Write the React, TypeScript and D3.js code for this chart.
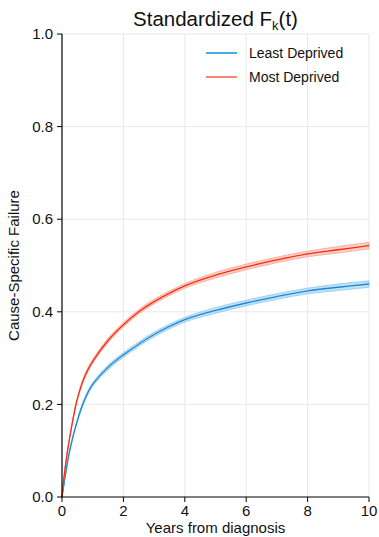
import * as d3 from "d3";

const years = [0, 0.1, 0.25, 0.5, 0.75, 1, 1.5, 2, 2.5, 3, 4, 5, 6, 7, 8, 9, 10];
const leastDeprived = [0, 0.043, 0.1, 0.165, 0.212, 0.243, 0.28, 0.307, 0.33, 0.351, 0.383, 0.403, 0.419, 0.433, 0.445, 0.453, 0.46];
const mostDeprived = [0, 0.062, 0.128, 0.212, 0.262, 0.293, 0.338, 0.372, 0.4, 0.422, 0.456, 0.479, 0.497, 0.512, 0.525, 0.534, 0.543];
const ciHalfWidth = [0, 0.001, 0.002, 0.003, 0.004, 0.004, 0.005, 0.005, 0.005, 0.005, 0.005, 0.006, 0.006, 0.006, 0.006, 0.007, 0.007];
const xTicks = [0, 2, 4, 6, 8, 10];
const yTicks = [0, 0.2, 0.4, 0.6, 0.8, 1.0];

const W = 379;
const H = 537;
const left = 62;
const right = 369;
const top = 34;
const bottom = 497;

const series = [
  { name: "Least Deprived", values: leastDeprived, line: "#1b8ad6", band: "#8ec9ee", legend: "#44ade6", legendW: 2 },
  { name: "Most Deprived", values: mostDeprived, line: "#f52e12", band: "#f9a596", legend: "#f5331a", legendW: 1.2 },
];

export default function App() {
  const x = d3.scaleLinear().domain([0, 10]).range([left, right]);
  const y = d3.scaleLinear().domain([0, 1]).range([bottom, top]);
  const font = "'Liberation Sans', Arial, sans-serif";
  const curve = d3.curveCatmullRom.alpha(0.5);

  const line = d3
    .line<number>()
    .x((_, i) => x(years[i]))
    .y((d) => y(d))
    .curve(curve);
  const band = (vals: number[]) =>
    d3
      .area<number>()
      .x((_, i) => x(years[i]))
      .y0((d, i) => y(d - ciHalfWidth[i]))
      .y1((d, i) => y(d + ciHalfWidth[i]))
      .curve(curve)(vals) as string;

  return (
    <svg width={W} height={H} style={{ position: "absolute", left: 0, top: 0, fontFamily: font }}>
      <rect width={W} height={H} fill="#fff" />
      {/* grid */}
      <g stroke="#e8e8e8" strokeWidth={1}>
        {xTicks.filter((t) => t > 0).map((t) => (
          <line key={t} x1={x(t)} x2={x(t)} y1={top} y2={bottom} />
        ))}
        {yTicks.filter((t) => t > 0).map((t) => (
          <line key={t} x1={left} x2={right} y1={y(t)} y2={y(t)} />
        ))}
      </g>
      {/* bands and lines */}
      {series.map((s) => (
        <g key={s.name}>
          <path d={band(s.values)} fill={s.band} fillOpacity={0.55} stroke={s.band} strokeWidth={0.8} />
          <path d={line(s.values) as string} fill="none" stroke={s.line} strokeWidth={1.3} />
        </g>
      ))}
      {/* axes */}
      <line x1={left} x2={left} y1={top} y2={bottom} stroke="#000" strokeWidth={1.2} />
      <line x1={left} x2={right} y1={bottom} y2={bottom} stroke="#000" strokeWidth={1.2} />
      {yTicks.map((t) => (
        <g key={t}>
          <line x1={left - 5} x2={left} y1={y(t)} y2={y(t)} stroke="#000" />
          <text x={left - 9} y={y(t)} dy="0.35em" textAnchor="end" fontSize={15} fill="#111">
            {d3.format(".1f")(t)}
          </text>
        </g>
      ))}
      {xTicks.map((t) => (
        <g key={t}>
          <line x1={x(t)} x2={x(t)} y1={bottom} y2={bottom + 5} stroke="#000" />
          <text x={x(t)} y={bottom + 19} textAnchor="middle" fontSize={15} fill="#111">
            {t}
          </text>
        </g>
      ))}
      <text x={(left + right) / 2} y={533} textAnchor="middle" fontSize={15} fill="#111">
        Years from diagnosis
      </text>
      <text
        transform={`translate(19,${(top + bottom) / 2}) rotate(-90)`}
        textAnchor="middle"
        fontSize={15}
        fill="#111"
      >
        Cause-Specific Failure
      </text>
      <text x={(left + right) / 2} y={26} textAnchor="middle" fontSize={20.5} fill="#111">
        Standardized F<tspan fontSize={13} dy={4}>k</tspan>
        <tspan dy={-4}>(t)</tspan>
      </text>
      {/* legend */}
      {series.map((s, i) => (
        <g key={s.name} transform={`translate(206,${53 + i * 24})`}>
          <line x1={0} x2={31} y1={0} y2={0} stroke={s.legend} strokeWidth={s.legendW} />
          <text x={43} y={0} dy="0.35em" fontSize={14} fill="#111">
            {s.name}
          </text>
        </g>
      ))}
    </svg>
  );
}
